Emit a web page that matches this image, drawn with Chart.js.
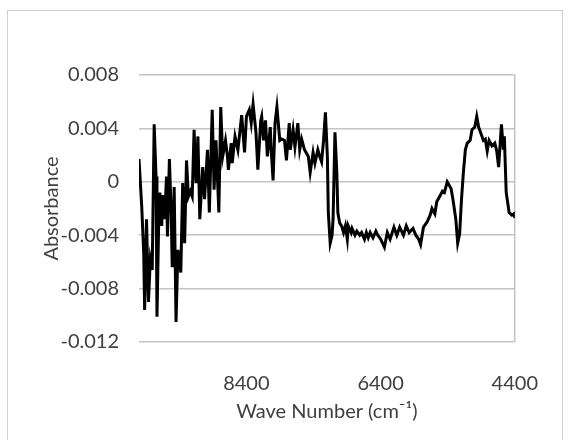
<!DOCTYPE html>
<html>
<head>
<meta charset="utf-8">
<script src="https://cdn.jsdelivr.net/npm/chart.js@4.4.1/dist/chart.umd.min.js"></script>
<style>
  html, body { margin: 0; padding: 0; background: #ffffff; }
  #wrap { width: 568px; height: 440px; position: relative; }
</style>
</head>
<body>
<div id="wrap"><canvas id="c" width="568" height="440"></canvas></div>
<script>
// Wave numbers (cm-1)
const waveNumbers = [
  10000, 9959, 9930, 9916, 9888, 9859, 9831, 9803, 9774, 9746, 9732, 9703, 9689, 9661, 9647, 9618,
  9590, 9576, 9547, 9519, 9505, 9476, 9448, 9420, 9377, 9349, 9320, 9292, 9264, 9235, 9207, 9179,
  9150, 9122, 9094, 9051, 9023, 8980, 8952, 8909, 8881, 8853, 8810, 8782, 8753, 8711, 8682, 8668,
  8626, 8611, 8569, 8526, 8470, 8427, 8399, 8356, 8328, 8300, 8257, 8229, 8186, 8172, 8144, 8115,
  8087, 8044, 8030, 8002, 7973, 7945, 7902, 7874, 7832, 7803, 7761, 7746, 7704, 7676, 7633, 7605,
  7576, 7534, 7477, 7449, 7406, 7378, 7335, 7307, 7279, 7250, 7222, 7193, 7179, 7151, 7123, 7108,
  7080, 7052, 7037, 7009, 6981, 6952, 6924, 6896, 6882, 6839, 6825, 6782, 6754, 6711, 6683, 6640,
  6612, 6584, 6555, 6513, 6470, 6442, 6399, 6343, 6300, 6258, 6201, 6158, 6116, 6059, 6017, 5974,
  5917, 5875, 5832, 5804, 5761, 5705, 5662, 5634, 5591, 5563, 5520, 5478, 5449, 5407, 5350, 5322,
  5279, 5251, 5222, 5194, 5166, 5137, 5109, 5066, 5038, 4996, 4967, 4939, 4910, 4868, 4840, 4811,
  4783, 4740, 4698, 4669, 4641, 4599, 4570, 4556, 4528, 4499, 4485, 4443, 4414, 4400
];
// Absorbance values
const absorbance = [
  0.0017, -0.0019, -0.0053, -0.0096, -0.0028, -0.0090, -0.0058, -0.0066, 0.0043, 0.0004, -0.0101, -0.0021, -0.0008, -0.0033, -0.0010, -0.0028,
  0.0004, -0.0041, 0.0017, -0.0026, -0.0064, -0.0004, -0.0105, -0.0051, -0.0068, -0.0001, -0.0046, 0.0016, -0.0011, -0.0007, -0.0011, 0.0039,
  -0.0001, 0.0034, -0.0028, 0.0011, -0.0013, 0.0024, -0.0023, 0.0054, -0.0006, 0.0031, -0.0023, 0.0056, 0.0019, 0.0031, 0.0019, 0.0009,
  0.0029, 0.0014, 0.0034, 0.0024, 0.0050, 0.0022, 0.0049, 0.0054, 0.0044, 0.0058, 0.0037, 0.0009, 0.0046, 0.0049, 0.0031, 0.0046,
  0.0019, 0.0041, 0.0024, 0.0001, 0.0044, 0.0056, 0.0031, 0.0032, 0.0031, 0.0016, 0.0044, 0.0024, 0.0039, 0.0026, 0.0044, 0.0024,
  0.0032, 0.0024, 0.0019, 0.0007, 0.0022, 0.0014, 0.0024, 0.0019, 0.0015, 0.0031, 0.0052, 0.0019, -0.0023, -0.0046, -0.0040, -0.0028,
  0.0037, 0.0007, -0.0023, -0.0031, -0.0033, -0.0038, -0.0033, -0.0043, -0.0033, -0.0038, -0.0035, -0.0040, -0.0037, -0.0040, -0.0038, -0.0043,
  -0.0038, -0.0042, -0.0038, -0.0042, -0.0037, -0.0040, -0.0043, -0.0049, -0.0038, -0.0043, -0.0034, -0.0040, -0.0034, -0.0040, -0.0033, -0.0038,
  -0.0035, -0.0040, -0.0043, -0.0047, -0.0034, -0.0030, -0.0025, -0.0020, -0.0024, -0.0015, -0.0011, -0.0007, -0.0008, 0.0000, -0.0005, -0.0013,
  -0.0028, -0.0046, -0.0039, -0.0013, 0.0007, 0.0024, 0.0029, 0.0031, 0.0039, 0.0041, 0.0049, 0.0041, 0.0037, 0.0031, 0.0032, 0.0023,
  0.0031, 0.0027, 0.0029, 0.0023, 0.0011, 0.0043, 0.0024, 0.0034, -0.0008, -0.0018, -0.0023, -0.0025, -0.0024, -0.0027
];
const xTickValues = [8400, 6400, 4400];
const yTickValues = [-0.012, -0.008, -0.004, 0, 0.004, 0.008];
const xTitle = 'Wave Number (cm\u207B\u00B9)';
const yTitle = 'Absorbance';

const points = waveNumbers.map((w, i) => ({ x: w, y: absorbance[i] }));

const frame = {
  id: 'frame',
  beforeDraw(chart) {
    const ctx = chart.ctx;
    ctx.save();
    ctx.fillStyle = '#ffffff';
    ctx.fillRect(0, 0, chart.width, chart.height);
    ctx.strokeStyle = '#d0d0d0';
    ctx.lineWidth = 1;
    ctx.strokeRect(7.5, 10.5, 555, 440);
    ctx.restore();
  }
};

const fontFam = 'Lato, "Open Sans", sans-serif';

new Chart(document.getElementById('c'), {
  type: 'line',
  data: {
    datasets: [{
      data: points,
      borderColor: '#000000',
      borderWidth: 3,
      pointRadius: 0,
      tension: 0,
      fill: false
    }]
  },
  options: {
    responsive: false,
    animation: false,
    layout: { padding: { left: 0, top: 75, right: 34, bottom: 0 } },
    plugins: { legend: { display: false }, tooltip: { enabled: false } },
    scales: {
      x: {
        type: 'linear',
        reverse: true,
        min: 4400,
        max: 10000,
        afterBuildTicks: (axis) => { axis.ticks = xTickValues.map(v => ({ value: v })); },
        afterFit: (axis) => { axis.height = 98; },
        grid: {
          drawTicks: false,
          lineWidth: 1.5,
          color: (c) => (c.tick && c.tick.value === 4400) ? '#c4c4c4' : 'rgba(0,0,0,0)'
        },
        border: { display: false },
        ticks: {
          padding: 30,
          color: '#404040',
          font: { family: fontFam, size: 20 },
          maxRotation: 0,
          autoSkip: false,
          callback: (v) => String(v)
        },
        title: {
          display: true,
          text: xTitle,
          color: '#404040',
          font: { family: fontFam, size: 20 },
          padding: { top: 0, bottom: 16 }
        }
      },
      y: {
        min: -0.012,
        max: 0.008,
        afterBuildTicks: (axis) => { axis.ticks = yTickValues.map(v => ({ value: v })); },
        afterFit: (axis) => { axis.width = 139; },
        grid: { drawTicks: false, color: '#c4c4c4', lineWidth: 1.5 },
        border: { display: false },
        ticks: {
          padding: 20,
          color: '#404040',
          font: { family: fontFam, size: 20 },
          callback: (v) => String(Number(Number(v).toFixed(3)))
        },
        title: {
          display: true,
          text: yTitle,
          color: '#404040',
          font: { family: fontFam, size: 20 },
          padding: { top: 40, bottom: 0 }
        }
      }
    }
  },
  plugins: [frame]
});
</script>
</body>
</html>
